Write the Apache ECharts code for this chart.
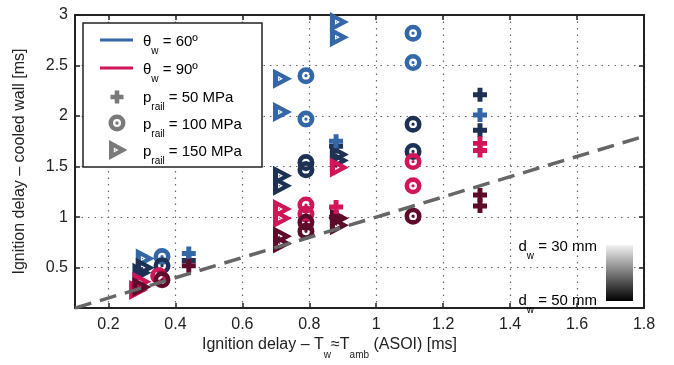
<!DOCTYPE html>
<html><head><meta charset="utf-8">
<script src="https://cdn.jsdelivr.net/npm/echarts@6/dist/echarts.min.js"></script>
<style>html,body{margin:0;padding:0;background:#fff}#c{width:674px;height:365px}</style>
</head><body><div id="c"></div>
<script>
// ---- tick values ----
const xTicks = [0.2, 0.4, 0.6, 0.8, 1.0, 1.2, 1.4, 1.6, 1.8];
const yTicks = [0.5, 1.0, 1.5, 2.0, 2.5, 3.0];
// ---- reference line (y = x) ----
const refLine = [[0.1, 0.1], [1.8, 1.8]];

// ---- theta_w = 60 deg, d_w = 30 mm ----
const t60d30_p50  = [[0.44, 0.64], [0.88, 1.75], [1.31, 2.01]];
const t60d30_p100 = [[0.36, 0.61], [0.79, 2.40], [0.79, 1.97], [1.11, 2.82], [1.11, 2.53]];
const t60d30_p150 = [[0.31, 0.59], [0.72, 2.37], [0.72, 2.04], [0.89, 2.93], [0.89, 2.78]];
// ---- theta_w = 60 deg, d_w = 50 mm ----
const t60d50_p50  = [[0.44, 0.57], [0.88, 1.70], [1.31, 2.21], [1.31, 1.86]];
const t60d50_p100 = [[0.36, 0.52], [0.79, 1.54], [0.79, 1.47], [1.11, 1.92], [1.11, 1.65]];
const t60d50_p150 = [[0.30, 0.45], [0.31, 0.50], [0.72, 1.41], [0.72, 1.31], [0.89, 1.62], [0.89, 1.56]];
// ---- theta_w = 90 deg, d_w = 30 mm ----
const t90d30_p50  = [[0.88, 1.10], [1.31, 1.73], [1.31, 1.66]];
const t90d30_p100 = [[0.35, 0.42], [0.79, 1.12], [0.79, 1.03], [1.11, 1.55], [1.11, 1.31]];
const t90d30_p150 = [[0.29, 0.28], [0.30, 0.36], [0.72, 1.08], [0.72, 0.99], [0.89, 1.49]];
// ---- theta_w = 90 deg, d_w = 50 mm ----
const t90d50_p50  = [[0.44, 0.52], [0.88, 1.00], [1.31, 1.22], [1.31, 1.11]];
const t90d50_p100 = [[0.36, 0.38], [0.79, 0.95], [0.79, 0.86], [1.11, 1.01]];
const t90d50_p150 = [[0.30, 0.31], [0.72, 0.81], [0.72, 0.74], [0.89, 0.99], [0.89, 0.92]];

const FONT = 'Liberation Sans';
const C60a = '#3467a8', C60b = '#1c3154', C90a = '#d11558', C90b = '#5e0b2b';
const GRAY = '#7a7a7a';

const PLUS = 'path://M4.2 0 H8.8 V4.2 H13 V8.8 H8.8 V13 H4.2 V8.8 H0 V4.2 H4.2 Z';
const RING = 'path://M10 0 A10 10 0 1 1 10 20 A10 10 0 1 1 10 0 Z M10 5.4 A4.6 4.6 0 1 0 10 14.6 A4.6 4.6 0 1 0 10 5.4 Z M10 8.1 A1.9 1.9 0 1 1 10 11.9 A1.9 1.9 0 1 1 10 8.1 Z';
const TRI = 'path://M0 0 L18 10 L0 20 Z M4.8 7.4 L4.8 12.6 L9.4 10 Z M5.8 9.2 L7.2 10 L5.8 10.8 Z';

function sc(data, sym, size, color, z) {
  return { type: 'scatter', data: data, symbol: sym, symbolSize: size, z: z,
    itemStyle: { color: color, opacity: 1 }, silent: true, animation: false };
}
const SZ_P = [14, 14], SZ_C = [17, 17], SZ_T = [19, 20];

const rich = {
  a: { fontSize: 15, fontFamily: FONT, color: '#222', lineHeight: 16, verticalAlign: 'top' },
  s: { fontSize: 10, fontFamily: FONT, color: '#222', lineHeight: 10, padding: [12, 0, 0, 0], verticalAlign: 'top' }
};
const richName = {
  a: { fontSize: 16, fontFamily: FONT, color: '#222', lineHeight: 17, verticalAlign: 'top' },
  s: { fontSize: 10, fontFamily: FONT, color: '#222', lineHeight: 10, padding: [13, 0, 0, 0], verticalAlign: 'top' }
};

// legend icon helpers (graphic primitives)
function plusIcon(cx, cy) {
  const h = 6.5, t = 2.3;
  return { type: 'polygon', z: 11, shape: { points: [
    [cx - t, cy - h], [cx + t, cy - h], [cx + t, cy - t], [cx + h, cy - t], [cx + h, cy + t], [cx + t, cy + t],
    [cx + t, cy + h], [cx - t, cy + h], [cx - t, cy + t], [cx - h, cy + t], [cx - h, cy - t], [cx - t, cy - t]] },
    style: { fill: GRAY } };
}
function ringIcon(cx, cy) {
  return [
    { type: 'ring', z: 11, shape: { cx: cx, cy: cy, r: 8.5, r0: 4 }, style: { fill: GRAY } },
    { type: 'circle', z: 11, shape: { cx: cx, cy: cy, r: 1.7 }, style: { fill: GRAY } }
  ];
}
function triIcon(cx, cy) {
  const l = cx - 9, r = cx + 9.5;
  return [
    { type: 'polygon', z: 11, shape: { points: [[l, cy - 10], [r, cy], [l, cy + 10]] }, style: { fill: GRAY } },
    { type: 'polygon', z: 12, shape: { points: [[l + 4.8, cy - 2.6], [l + 9.6, cy], [l + 4.8, cy + 2.6]] }, style: { fill: '#fff' } },
    { type: 'polygon', z: 13, shape: { points: [[l + 5.9, cy - 0.8], [l + 7.3, cy], [l + 5.9, cy + 0.8]] }, style: { fill: GRAY } }
  ];
}

const chart = echarts.init(document.getElementById('c'), null, { renderer: 'canvas' });
const axisLineStyle = { color: '#222', width: 2 };
const option = {
  animation: false,
  grid: { left: 75, right: 30, top: 15, bottom: 52, containLabel: false },
  xAxis: [
    { type: 'value', min: 0.1, max: 1.8, position: 'bottom',
      axisLine: { show: true, onZero: false, lineStyle: axisLineStyle },
      axisTick: { show: true, inside: true, length: 5, customValues: xTicks, lineStyle: { color: '#222', width: 1.5 } },
      axisLabel: { customValues: xTicks, fontSize: 16, fontFamily: FONT, color: '#222', margin: 8,
        formatter: v => String(+(+v).toFixed(1)) },
      splitLine: { show: true, lineStyle: { color: '#666', type: [1.5, 5], width: 1.2 } },
      name: '{a|Ignition delay – T}{s|w}{a|≈T}{s|amb}{a| (ASOI) [ms]}', nameLocation: 'middle', nameGap: 25,
      nameTextStyle: { rich: richName, padding: [0, 60, 0, 0] }
    },
    { type: 'value', min: 0.1, max: 1.8, position: 'top',
      axisLine: { show: true, onZero: false, lineStyle: axisLineStyle },
      axisTick: { show: true, inside: true, length: 5, customValues: xTicks, lineStyle: { color: '#222', width: 1.5 } },
      axisLabel: { show: false }, splitLine: { show: false } }
  ],
  yAxis: [
    { type: 'value', min: 0.1, max: 3, position: 'left',
      axisLine: { show: true, onZero: false, lineStyle: axisLineStyle },
      axisTick: { show: true, inside: true, length: 5, customValues: yTicks, lineStyle: { color: '#222', width: 1.5 } },
      axisLabel: { customValues: yTicks, fontSize: 16, fontFamily: FONT, color: '#222', margin: 7,
        formatter: v => String(+(+v).toFixed(1)) },
      splitLine: { show: true, lineStyle: { color: '#666', type: [1.5, 5], width: 1.2 } },
      name: 'Ignition delay – cooled wall [ms]', nameLocation: 'middle', nameGap: 47,
      nameTextStyle: { fontSize: 16, fontFamily: FONT, color: '#222' }
    },
    { type: 'value', min: 0.1, max: 3, position: 'right',
      axisLine: { show: true, onZero: false, lineStyle: axisLineStyle },
      axisTick: { show: true, inside: true, length: 5, customValues: yTicks, lineStyle: { color: '#222', width: 1.5 } },
      axisLabel: { show: false }, splitLine: { show: false } }
  ],
  series: [
    sc(t60d30_p150, TRI, SZ_T, C60a, 2), sc(t60d50_p150, TRI, SZ_T, C60b, 2),
    sc(t60d30_p100, RING, SZ_C, C60a, 2), sc(t60d50_p100, RING, SZ_C, C60b, 2),
    sc(t60d50_p50, PLUS, SZ_P, C60b, 2), sc(t60d30_p50, PLUS, SZ_P, C60a, 2),
    sc(t90d30_p150, TRI, SZ_T, C90a, 3), sc(t90d50_p150, TRI, SZ_T, C90b, 3),
    sc(t90d30_p100, RING, SZ_C, C90a, 3), sc(t90d50_p100, RING, SZ_C, C90b, 3),
    sc(t90d50_p50, PLUS, SZ_P, C90b, 3), sc(t90d30_p50, PLUS, SZ_P, C90a, 3),
    { type: 'line', data: refLine, symbol: 'none', z: 4, silent: true,
      lineStyle: { color: '#666', width: 3.5, type: [17, 9] } }
  ],
  graphic: [
    { type: 'rect', z: 10, shape: { x: 83, y: 23, width: 179, height: 144 },
      style: { fill: '#fff', stroke: '#222', lineWidth: 1.5 } },
    { type: 'line', z: 11, shape: { x1: 100, y1: 40, x2: 133, y2: 40 }, style: { stroke: C60a, lineWidth: 3 } },
    { type: 'line', z: 11, shape: { x1: 100, y1: 68, x2: 133, y2: 68 }, style: { stroke: C90a, lineWidth: 3 } },
    plusIcon(117, 97),
    ...ringIcon(117, 123),
    ...triIcon(118, 150),
    { type: 'text', z: 11, x: 143, y: 42, style: { text: '{a|θ}{s|w}{a| = 60º}', rich: rich, verticalAlign: 'middle' } },
    { type: 'text', z: 11, x: 143, y: 70, style: { text: '{a|θ}{s|w}{a| = 90º}', rich: rich, verticalAlign: 'middle' } },
    { type: 'text', z: 11, x: 143, y: 98, style: { text: '{a|p}{s|rail}{a| = 50 MPa}', rich: rich, verticalAlign: 'middle' } },
    { type: 'text', z: 11, x: 143, y: 125, style: { text: '{a|p}{s|rail}{a| = 100 MPa}', rich: rich, verticalAlign: 'middle' } },
    { type: 'text', z: 11, x: 143, y: 152, style: { text: '{a|p}{s|rail}{a| = 150 MPa}', rich: rich, verticalAlign: 'middle' } },
    { type: 'rect', z: 11, shape: { x: 606, y: 245, width: 27, height: 56 },
      style: { fill: new echarts.graphic.LinearGradient(0, 0, 0, 1, [
        { offset: 0, color: '#f2f2f2' }, { offset: 1, color: '#000' }]) } },
    { type: 'text', z: 11, x: 597, y: 247, style: { text: '{a|d}{s|w}{a| = 30 mm}', rich: rich, align: 'right', verticalAlign: 'middle' } },
    { type: 'text', z: 11, x: 597, y: 301, style: { text: '{a|d}{s|w}{a| = 50 mm}', rich: rich, align: 'right', verticalAlign: 'middle' } }
  ]
};
chart.setOption(option);
</script>
</body></html>
